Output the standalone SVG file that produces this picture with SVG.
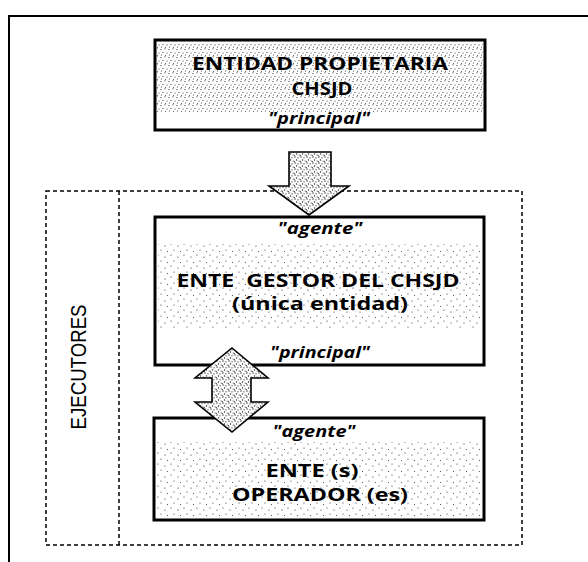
<svg xmlns="http://www.w3.org/2000/svg" width="588" height="562" viewBox="0 0 588 562">
  <defs>
    <pattern id="dense" width="8" height="8" patternUnits="userSpaceOnUse">
      <circle cx="1" cy="1.5" r="0.6" fill="#222"/>
      <circle cx="5" cy="0.8" r="0.55" fill="#222"/>
      <circle cx="3" cy="4.5" r="0.6" fill="#222"/>
      <circle cx="7" cy="5" r="0.55" fill="#222"/>
      <circle cx="1.5" cy="7" r="0.5" fill="#222"/>
      <circle cx="5.5" cy="7.2" r="0.5" fill="#222"/>
    </pattern>
    <pattern id="sparse" width="13" height="11" patternUnits="userSpaceOnUse">
      <circle cx="2" cy="2" r="0.6" fill="#222"/>
      <circle cx="9" cy="4" r="0.6" fill="#222"/>
      <circle cx="5" cy="8" r="0.55" fill="#222"/>
      <circle cx="11.5" cy="9.5" r="0.5" fill="#222"/>
    </pattern>
    <pattern id="arrowfill" width="6" height="6" patternUnits="userSpaceOnUse">
      <rect width="6" height="6" fill="#fff"/>
      <circle cx="1" cy="1" r="0.7" fill="#222"/>
      <circle cx="4" cy="1.8" r="0.65" fill="#222"/>
      <circle cx="2.5" cy="4" r="0.7" fill="#222"/>
      <circle cx="5.2" cy="5" r="0.6" fill="#222"/>
      <circle cx="0.5" cy="5.5" r="0.5" fill="#222"/>
    </pattern>
    <style>
      .frame { fill: none; stroke: #000; stroke-width: 2; }
      .dash { fill: none; stroke: #000; stroke-width: 1.5; stroke-dasharray: 4 3; }
      .box { fill: #fff; stroke: #000; stroke-width: 3; }
      .bold { font-family: "Open Sans", "DejaVu Sans", sans-serif; font-weight: bold; font-size: 18px; fill: #000; text-anchor: middle; }
      .ital { font-family: "Open Sans", "DejaVu Sans", sans-serif; font-style: italic; font-weight: bold; font-size: 16px; fill: #000; text-anchor: middle; }
      .side { font-family: "Liberation Sans", Arial, sans-serif; font-size: 22px; fill: #000; text-anchor: middle; }
      .arrow { fill: url(#arrowfill); stroke: #000; stroke-width: 1.6; stroke-linejoin: miter; }
    </style>
  </defs>

  <g id="frame">
    <polyline class="frame" points="9,562 9,16 588,16"/>
  </g>

  <g id="ejecutores">
    <rect class="dash" x="46" y="191" width="476" height="354"/>
    <line class="dash" x1="119" y1="191" x2="119" y2="545"/>
    <text class="side" transform="translate(86,367) rotate(-90)" x="0" y="0" textLength="125" lengthAdjust="spacingAndGlyphs">EJECUTORES</text>
  </g>

  <g id="entidad-propietaria">
    <rect class="box" x="155" y="40" width="330" height="90"/>
    <rect x="157" y="42" width="326" height="70" fill="url(#dense)"/>
    <text class="bold" x="320" y="70" textLength="256" lengthAdjust="spacingAndGlyphs">ENTIDAD PROPIETARIA</text>
    <text class="bold" x="322" y="95" textLength="61" lengthAdjust="spacingAndGlyphs">CHSJD</text>
    <text class="ital" x="319" y="124" textLength="102" lengthAdjust="spacingAndGlyphs">"principal"</text>
  </g>

  <g id="ente-gestor">
    <rect class="box" x="155" y="217" width="329" height="148"/>
    <rect x="158" y="244" width="323" height="84" fill="url(#sparse)"/>
    <text class="ital" x="320" y="234" textLength="85" lengthAdjust="spacingAndGlyphs">"agente"</text>
    <text class="bold" x="318" y="287" textLength="283" lengthAdjust="spacingAndGlyphs" xml:space="preserve">ENTE  GESTOR DEL CHSJD</text>
    <text class="bold" x="320" y="310" textLength="176" lengthAdjust="spacingAndGlyphs">(única entidad)</text>
    <text class="ital" x="320" y="358" textLength="100" lengthAdjust="spacingAndGlyphs">"principal"</text>
  </g>

  <g id="ente-operador">
    <rect class="box" x="154" y="418" width="330" height="102"/>
    <rect x="157" y="442" width="324" height="76" fill="url(#sparse)"/>
    <text class="ital" x="314" y="437" textLength="83" lengthAdjust="spacingAndGlyphs">"agente"</text>
    <text class="bold" x="312" y="477" textLength="93" lengthAdjust="spacingAndGlyphs">ENTE (s)</text>
    <text class="bold" x="320" y="501" textLength="176" lengthAdjust="spacingAndGlyphs">OPERADOR (es)</text>
  </g>

  <g id="connectors">
    <polygon class="arrow" points="289,152 331,152 331,186 349,186 309,215 269,186 289,186"/>
    <polygon class="arrow" points="232,348 268,378 251,378 251,402 268,402 232,432 195,402 212,402 212,378 195,378"/>
  </g>
</svg>
